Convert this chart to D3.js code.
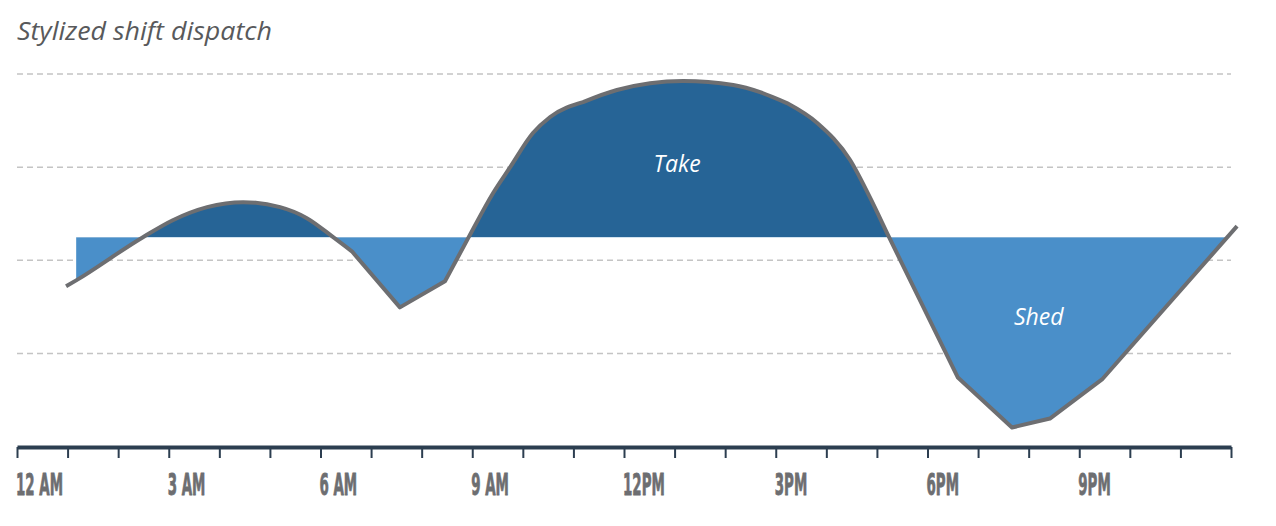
<!DOCTYPE html>
<html><head><meta charset="utf-8">
<script src="https://cdn.jsdelivr.net/npm/d3@7"></script>
<style>body{margin:0;background:#fff} svg{display:block}</style>
</head><body><svg id="c" width="1276" height="526"></svg>
<script>
// ---- data ----
const hours  = [0.97, 1.17, 2.49, 3.08, 3.76, 4.47, 5.20, 5.73, 6.25, 6.62, 7.57, 8.46, 8.93, 9.41, 9.75, 10.20, 10.54, 11.19, 11.86, 13.17, 14.16, 15.22, 15.82, 16.47, 16.86, 17.24, 18.60, 19.67, 20.42, 21.45, 24.12];
const values = [-14.0, -10.8, 12.4, 21.5, 28.5, 31.2, 28.5, 22.6, 12.4, 4.8, -25.3, -11.3, 12.4, 36.0, 50.0, 68.3, 76.9, 84.9, 91.4, 96.2, 94.1, 84.4, 73.7, 53.8, 33.9, 12.4, -63.0, -89.8, -85.0, -64.0, 18.3];
// hours at which the line has a sharp corner
const cornerHours = [6.62, 7.57, 8.46, 11.19, 15.22, 18.60, 19.67, 20.42, 21.45];
const baselineValue = 12.4;
const gridValues = [100, 50, 0, -50];
const tickHours = d3.range(0, 25);
const labelHours = [0, 3, 6, 9, 12, 15, 18, 21];
const tickLabels = ["12 AM", "3 AM", "6 AM", "9 AM", "12PM", "3PM", "6PM", "9PM"];
const areaNames = ["Take", "Shed"];
const areaNameHours = [13.05, 20.2];
const areaNameValues = [47.3, -34.9];
const title = "Stylized shift dispatch";

// ---- layout ----
const svg = d3.select("#c");
const x = d3.scaleLinear().domain([0, 24]).range([17, 1231]);
const y = d3.scaleLinear().domain([-100, 100]).range([446.5, 74]);
const pts = hours.map((h, i) => ({h, v: values[i], corner: cornerHours.includes(h)}));
const yb = y(baselineValue);

// title
const t = svg.append("text").attr("x", 17).attr("y", 40)
  .attr("font-family", "'Open Sans', 'Noto Sans', sans-serif")
  .attr("font-style", "italic").attr("font-size", 26)
  .attr("fill", "#58595b").text(title);
{
  const w = t.node().getComputedTextLength();
  const sx = 255 / w;
  t.attr("transform", `translate(17,0) scale(${sx},1) translate(-17,0)`);
}

// gridlines
svg.append("g").selectAll("line").data(gridValues).join("line")
  .attr("x1", x(0)).attr("x2", x(24))
  .attr("y1", d => y(d)).attr("y2", d => y(d))
  .attr("stroke", "#c4c4c4").attr("stroke-width", 1.5)
  .attr("stroke-dasharray", "6,4");

// path builder: smooth runs between corner points
const seg = d3.line().curve(d3.curveMonotoneX).x(d => x(d.h)).y(d => y(d.v));
function pathFor(p) {
  let d = "", start = 0;
  for (let i = 1; i < p.length; i++) {
    if (p[i].corner || i === p.length - 1) {
      const s = seg(p.slice(start, i + 1));
      d += d ? s.replace(/^M/, "L") : s;
      start = i;
    }
  }
  return d;
}

// area: from second point to where the final segment returns to the baseline
const n = pts.length;
const a = pts[n - 2], b = pts[n - 1];
const tt = (baselineValue - a.v) / (b.v - a.v);
const endPt = {h: a.h + tt * (b.h - a.h), v: baselineValue, corner: true};
const areaPts = pts.slice(1, n - 1).concat([endPt]);
const areaD = pathFor(areaPts) +
  `L${x(endPt.h)},${yb}L${x(areaPts[0].h)},${yb}Z`;

const defs = svg.append("defs");
defs.append("clipPath").attr("id", "above").append("rect")
  .attr("x", 0).attr("y", 0).attr("width", 1276).attr("height", yb);
defs.append("clipPath").attr("id", "below").append("rect")
  .attr("x", 0).attr("y", yb).attr("width", 1276).attr("height", 526 - yb);

svg.append("path").attr("d", areaD).attr("fill", "#266496").attr("clip-path", "url(#above)");
svg.append("path").attr("d", areaD).attr("fill", "#4a8fc9").attr("clip-path", "url(#below)");

// line
svg.append("path").attr("d", pathFor(pts)).attr("fill", "none")
  .attr("stroke", "#6d6e71").attr("stroke-width", 4).attr("stroke-linejoin", "round");

// area names
svg.append("g").selectAll("text").data(areaNames).join("text")
  .attr("x", (d, i) => x(areaNameHours[i])).attr("y", (d, i) => y(areaNameValues[i]))
  .attr("text-anchor", "middle")
  .attr("font-family", "'Open Sans', 'Noto Sans', sans-serif")
  .attr("font-style", "italic").attr("font-weight", 500).attr("font-size", 23)
  .attr("fill", "#ffffff").text(d => d);

// axis
const axis = d3.axisBottom(x).tickValues(tickHours).tickSize(11).tickSizeOuter(0).tickFormat("");
const ag = svg.append("g").attr("transform", "translate(0,447)").call(axis);
ag.select(".domain").attr("stroke", "#2c3e50").attr("stroke-width", 4);
ag.selectAll(".tick line").attr("stroke", "#2c3e50").attr("stroke-width", 2);

// axis labels
const lbl = svg.append("g").selectAll("g").data(labelHours).join("g")
  .attr("transform", d => `translate(${x(d) - 1},495)`);
const lt = lbl.append("text")
  .attr("font-family", "'Liberation Sans Narrow', 'DejaVu Sans Condensed', 'Liberation Sans', sans-serif")
  .attr("font-weight", "bold").attr("font-size", 30)
  .attr("fill", "#6d6e71").attr("stroke", "#6d6e71").attr("stroke-width", 0.8)
  .text((d, i) => tickLabels[i]);
{
  const w0 = lt.nodes()[0].getComputedTextLength();
  const sx = 47 / w0;
  lt.attr("transform", `scale(${sx},1)`);
}
</script></body></html>
